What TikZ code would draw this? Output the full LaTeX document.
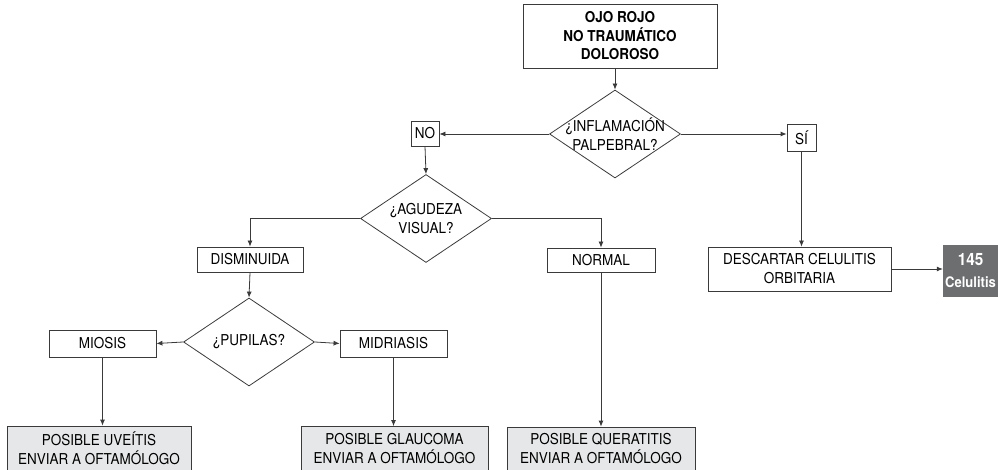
\documentclass[tikz,border=0pt]{standalone}
\usepackage{fontspec}
\setmainfont{TeX Gyre Heros}[FakeStretch=0.9]
\usepackage{tikz}
\usetikzlibrary{arrows.meta,shapes.geometric}
\definecolor{FlowLine}{HTML}{3A3A3A}
\definecolor{ResultGray}{HTML}{E6E7E8}
\definecolor{RefGray}{HTML}{6D6E70}

\tikzset{
  flowbox/.style={draw=FlowLine,line width=0.8pt,inner sep=0pt,align=center,
    font=\fontsize{15}{19}\selectfont},
  resultbox/.style={flowbox,fill=ResultGray,minimum width=184pt,minimum height=44pt},
  askbox/.style={draw=FlowLine,line width=0.8pt,shape=diamond,inner sep=0pt,
    minimum width=131pt,minimum height=88pt},
  flowarrow/.style={draw=FlowLine,line width=0.8pt,-{Latex[length=6pt,width=5pt]}}
}

\begin{document}
\begin{tikzpicture}[x=1pt,y=-1pt]
      \useasboundingbox (0,0) rectangle (998,470);
      % start
      \node[flowbox,minimum width=194pt,minimum height=64pt,font=\bfseries\fontsize{15}{18.5}\selectfont]
        (ojo) at (620,36) {OJO ROJO\\NO TRAUMÁTICO\\DOLOROSO};
      \node[askbox,label={[align=center,font=\fontsize{15}{19}\selectfont]center:¿INFLAMACIÓN\\PALPEBRAL?}]
        (inflam) at (615,134) {};
      \node[flowbox,minimum width=28pt,minimum height=25pt] (no) at (425,133.5) {NO};
      \node[flowbox,minimum width=29pt,minimum height=27pt] (si) at (801.5,137.5) {SÍ};
      % left branch
      \node[askbox,label={[align=center,font=\fontsize{15}{19}\selectfont]center:¿AGUDEZA\\VISUAL?}]
        (agudeza) at (426,218.5) {};
      \node[flowbox,minimum width=106pt,minimum height=25pt] (dism) at (250,259.5) {DISMINUIDA};
      \node[flowbox,minimum width=108pt,minimum height=24pt] (normal) at (601,260) {NORMAL};
      \node[askbox,label={[font=\fontsize{15}{19}\selectfont]center:¿PUPILAS?}]
        (pupilas) at (249,342) {};
      \node[flowbox,minimum width=107pt,minimum height=27pt] (miosis) at (102.5,343.5) {MIOSIS};
      \node[flowbox,minimum width=107pt,minimum height=27pt] (midriasis) at (393.5,343.5) {MIDRIASIS};
      % results
      \node[resultbox] (uveitis) at (99,448) {POSIBLE UVEÍTIS\\ENVIAR A OFTAMÓLOGO};
      \node[resultbox,minimum width=187pt] (glaucoma) at (394.5,448.5) {POSIBLE GLAUCOMA\\ENVIAR A OFTAMÓLOGO};
      \node[resultbox,minimum width=188pt] (queratitis) at (601,449) {POSIBLE QUERATITIS\\ENVIAR A OFTAMÓLOGO};
      % right branch
      \node[flowbox,minimum width=183pt,minimum height=44pt] (descartar) at (799.5,269)
        {DESCARTAR CELULITIS\\ORBITARIA};
      \node[fill=RefGray,text=white,minimum width=55pt,minimum height=52pt,inner sep=0pt,align=center,
        font=\bfseries\fontsize{14.5}{22}\selectfont] (ref) at (970.5,271)
        {{\fontsize{17}{22}\selectfont 145}\\Celulitis};
      % connectors
      \draw[flowarrow] (ojo.south -| inflam.north) -- (inflam.north);
      \draw[flowarrow] (inflam.west) -- (inflam.west -| no.east);
      \draw[flowarrow] (inflam.east) -- (inflam.east -| si.west);
      \draw[flowarrow] (no.south) -- (agudeza.north);
      \draw[flowarrow] (si.south) -- (si.south |- descartar.north);
      \draw[flowarrow] (agudeza.west) -| (dism.north);
      \draw[flowarrow] (agudeza.east) -| (normal.north);
      \draw[flowarrow] (dism.south) -- (pupilas.north);
      \draw[flowarrow] (pupilas.west) -- (miosis.east);
      \draw[flowarrow] (pupilas.east) -- (midriasis.west);
      \draw[flowarrow] (miosis.south) -- (miosis.south |- uveitis.north);
      \draw[flowarrow] (midriasis.south) -- (midriasis.south |- glaucoma.north);
      \draw[flowarrow] (normal.south) -- (queratitis.north);
      \draw[flowarrow] (descartar.east) -- (descartar.east -| ref.west);
    \end{tikzpicture}
\end{document}
